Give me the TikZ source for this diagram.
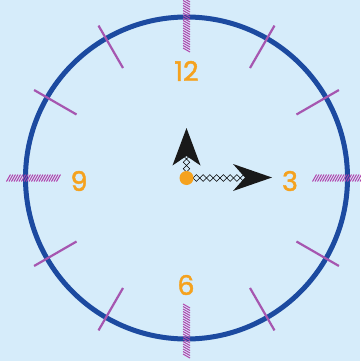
\documentclass[tikz,border=0pt]{standalone}
\usepackage{fontspec}
\newfontfamily\numfont[FakeBold=1.6]{Poppins}
\begin{document}
\begin{tikzpicture}[x=1pt,y=-1pt,
  rim/.style={draw=rimblue,line width=5pt},
  tickline/.style={draw=tickpurple,line width=2.2pt},
  hatch/.style={draw=hatchpurple,line width=1pt},
  chain/.style={draw=black,line width=0.6pt},
  head/.style={fill=black!90},
  num/.style={text=numorange,font=\numfont\fontsize{27}{27}\selectfont,inner sep=0pt}]
\definecolor{bg}{HTML}{D6ECFA}
\definecolor{rimblue}{HTML}{1C4AA0}
\definecolor{tickpurple}{HTML}{A656B0}
\definecolor{hatchpurple}{HTML}{B044AC}
\definecolor{numorange}{HTML}{F5A21E}
\fill[bg] (0,0) rectangle (360,361);
\useasboundingbox (0,0) rectangle (360,361);
\coordinate (c) at (186.5,178);
% rim
\draw[rim] (c) circle[radius=161];
% minor ticks
\foreach \a in {30,60,120,150,210,240,300,330}
  \draw[tickline] ({186.5+127*sin(\a)},{178-127*cos(\a)}) -- ({186.5+176*sin(\a)},{178-176*cos(\a)});
% hatched major ticks
\foreach \a in {0,90,180,270}{
  \begin{scope}[shift={(186.5,178)},rotate=\a]
    \foreach \t in {128,130.5,...,178}
      \draw[hatch] (-3.5,-\t-2) -- (3.5,-\t+2);
  \end{scope}}
% numbers
\node[num] (n12) at (186.5,71) {12};
\node[num] (n3) at (290,181) {3};
\node[num] (n6) at (186,285) {6};
\node[num] (n9) at (79,181) {9};
% minute hand chain
\foreach \i in {0,...,7}
  \draw[chain] ({193+6.75*\i},178) -- ++(3.375,-3.4) -- ++(3.375,3.4) -- ++(-3.375,3.4) -- cycle;
% hour hand chain
\foreach \i in {0,1,2}
  \draw[chain] (186.5,{172-6.5*\i}) -- ++(3.3,-3.25) -- ++(-3.3,-3.25) -- ++(-3.3,3.25) -- cycle;
% arrowheads
\fill[head] (186.5,128) -- (200.5,165.5) -- (186.5,156) -- (172.5,165.5) -- cycle;
\fill[head] (272,177.5) -- (233,164) -- (245,177.5) -- (233,191) -- cycle;
% center dot
\fill[numorange] (c) circle[radius=7];
\end{tikzpicture}
\end{document}
